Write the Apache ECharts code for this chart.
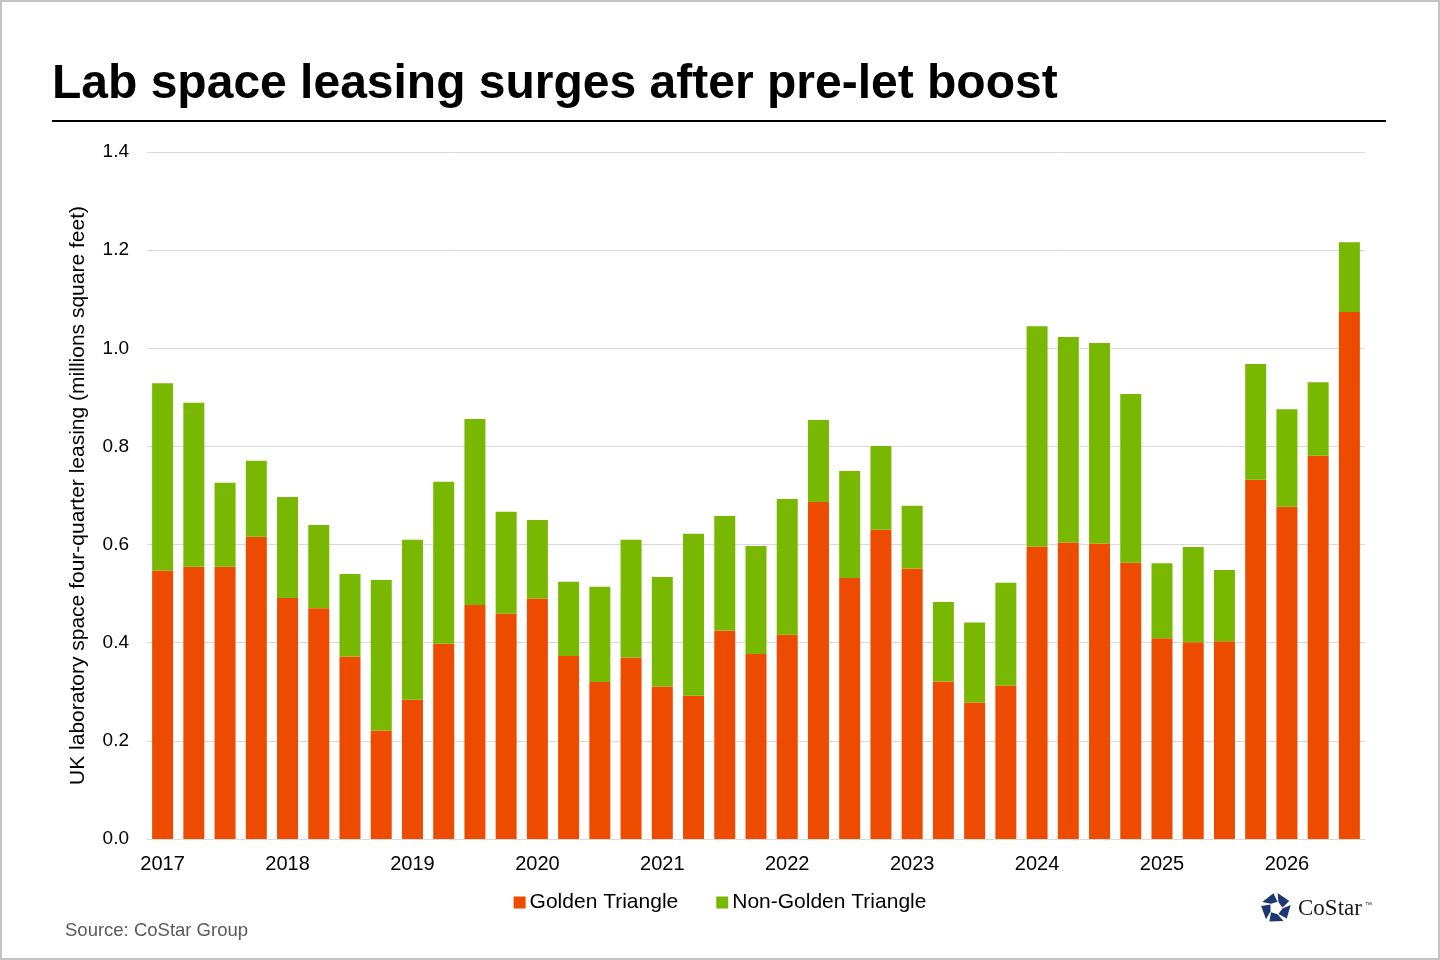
<!DOCTYPE html>
<html>
<head>
<meta charset="utf-8">
<title>Lab space leasing surges after pre-let boost</title>
<script src="https://cdn.jsdelivr.net/npm/echarts@6/dist/echarts.min.js"></script>
<style>
    html, body { margin: 0; padding: 0; background: #fff; }
    #chart { width: 1440px; height: 960px; }
</style>
</head>
<body>
<div id="chart"></div>
<script>
// quarters, one bar each; only Q1 gets a year label
var quarters = [
    '2017 Q1', '2017 Q2', '2017 Q3', '2017 Q4',
    '2018 Q1', '2018 Q2', '2018 Q3', '2018 Q4',
    '2019 Q1', '2019 Q2', '2019 Q3', '2019 Q4',
    '2020 Q1', '2020 Q2', '2020 Q3', '2020 Q4',
    '2021 Q1', '2021 Q2', '2021 Q3', '2021 Q4',
    '2022 Q1', '2022 Q2', '2022 Q3', '2022 Q4',
    '2023 Q1', '2023 Q2', '2023 Q3', '2023 Q4',
    '2024 Q1', '2024 Q2', '2024 Q3', '2024 Q4',
    '2025 Q1', '2025 Q2', '2025 Q3', '2025 Q4',
    '2026 Q1', '2026 Q2', '2026 Q3'
];

// millions sq ft
var goldenTriangle = [
    0.547, 0.555, 0.555, 0.616,
    0.491, 0.470, 0.372, 0.221,
    0.284, 0.398, 0.477, 0.459,
    0.490, 0.373, 0.320, 0.370,
    0.311, 0.292, 0.425, 0.377,
    0.416, 0.687, 0.532, 0.630,
    0.551, 0.321, 0.278, 0.313,
    0.596, 0.604, 0.602, 0.563,
    0.409, 0.401, 0.403, 0.732,
    0.677, 0.781, 1.074
];

var nonGoldenTriangle = [
    0.382, 0.334, 0.171, 0.155,
    0.206, 0.170, 0.168, 0.307,
    0.326, 0.330, 0.379, 0.208,
    0.160, 0.151, 0.194, 0.240,
    0.223, 0.330, 0.233, 0.220,
    0.277, 0.167, 0.218, 0.171,
    0.128, 0.162, 0.163, 0.209,
    0.449, 0.419, 0.409, 0.344,
    0.153, 0.194, 0.145, 0.236,
    0.199, 0.150, 0.142
];

var yTicks = [0, 0.2, 0.4, 0.6, 0.8, 1.0, 1.2, 1.4];

var FONT = 'Liberation Sans, Arial, sans-serif';
var ORANGE = '#ED4B00';
var GREEN = '#78B800';

// little CoStar pinwheel, 5 pieces round a centre
function logoPieces(cx, cy) {
    var out = [];
    var R = 15, r = 6.5;
    function pt(rad, deg) {
        var a = deg * Math.PI / 180;
        return [cx + rad * Math.cos(a), cy + rad * Math.sin(a)];
    }
    for (var k = 0; k < 5; k++) {
        var a0 = -90 + 72 * k;
        out.push({
            type: 'polygon',
            shape: { points: [pt(R, a0 + 6), pt(R, a0 + 62), pt(r, a0 + 86), pt(r, a0 + 22)] },
            style: { fill: '#1E3671' }
        });
    }
    return out;
}

var chart = echarts.init(document.getElementById('chart'));

var option = {
    animation: false,
    backgroundColor: '#fff',
    title: {
        text: 'Lab space leasing surges after pre-let boost',
        left: 47,
        top: 56,
        textStyle: { fontFamily: FONT, fontSize: 48, fontWeight: 'bold', color: '#000' }
    },
    legend: {
        data: ['Golden Triangle', 'Non-Golden Triangle'],
        left: 'center',
        top: 887,
        icon: 'rect',
        itemWidth: 12,
        itemHeight: 12,
        itemGap: 38,
        textStyle: { fontFamily: FONT, fontSize: 21, color: '#000', padding: [0, 0, 0, -1] }
    },
    grid: { left: 147, right: 75, top: 152, bottom: 121 },
    xAxis: {
        type: 'category',
        data: quarters,
        axisLine: { lineStyle: { color: '#d9d9d9', width: 1 } },
        axisTick: { show: false },
        axisLabel: {
            interval: 3,
            margin: 15,
            fontFamily: FONT,
            fontSize: 20,
            color: '#000',
            formatter: function (v) { return v.split(' ')[0]; }
        }
    },
    yAxis: {
        type: 'value',
        min: yTicks[0],
        max: yTicks[yTicks.length - 1],
        interval: 0.2,
        name: 'UK laboratory space four-quarter leasing (millions square feet)',
        nameLocation: 'middle',
        nameGap: 58,
        nameTextStyle: { fontFamily: FONT, fontSize: 21, color: '#000' },
        axisLine: { show: false },
        axisTick: { show: false },
        splitLine: { lineStyle: { color: '#d9d9d9', width: 1 } },
        axisLabel: {
            margin: 18,
            fontFamily: FONT,
            fontSize: 19,
            color: '#000',
            formatter: function (v) { return v.toFixed(1); }
        }
    },
    series: [
        {
            name: 'Golden Triangle',
            type: 'bar',
            stack: 'total',
            barWidth: 21,
            itemStyle: { color: ORANGE },
            data: goldenTriangle
        },
        {
            name: 'Non-Golden Triangle',
            type: 'bar',
            stack: 'total',
            barWidth: 21,
            itemStyle: { color: GREEN },
            data: nonGoldenTriangle
        }
    ],
    graphic: [
        {
            type: 'rect',
            shape: { x: 1, y: 1, width: 1438, height: 958 },
            style: { fill: null, stroke: '#c4c4c4', lineWidth: 2 },
            silent: true
        },
        {
            type: 'line',
            shape: { x1: 52, y1: 121, x2: 1386, y2: 121 },
            style: { stroke: '#000', lineWidth: 2 }
        },
        {
            type: 'text',
            left: 65,
            top: 921,
            style: { text: 'Source: CoStar Group', font: '18.5px ' + FONT, fill: '#595959' }
        },
        {
            type: 'group',
            children: logoPieces(1276, 908).concat([
                {
                    type: 'text',
                    x: 1298,
                    y: 897,
                    style: { text: 'CoStar', font: '23px Liberation Serif, Times New Roman, serif', fill: '#1a1a1a' }
                },
                {
                    type: 'text',
                    x: 1365,
                    y: 902,
                    style: { text: '\u2122', font: '7px ' + FONT, fill: '#1a1a1a' }
                }
            ])
        }
    ]
};

chart.setOption(option);

window.onresize = function () {
    chart.resize();
};
</script>
</body>
</html>
